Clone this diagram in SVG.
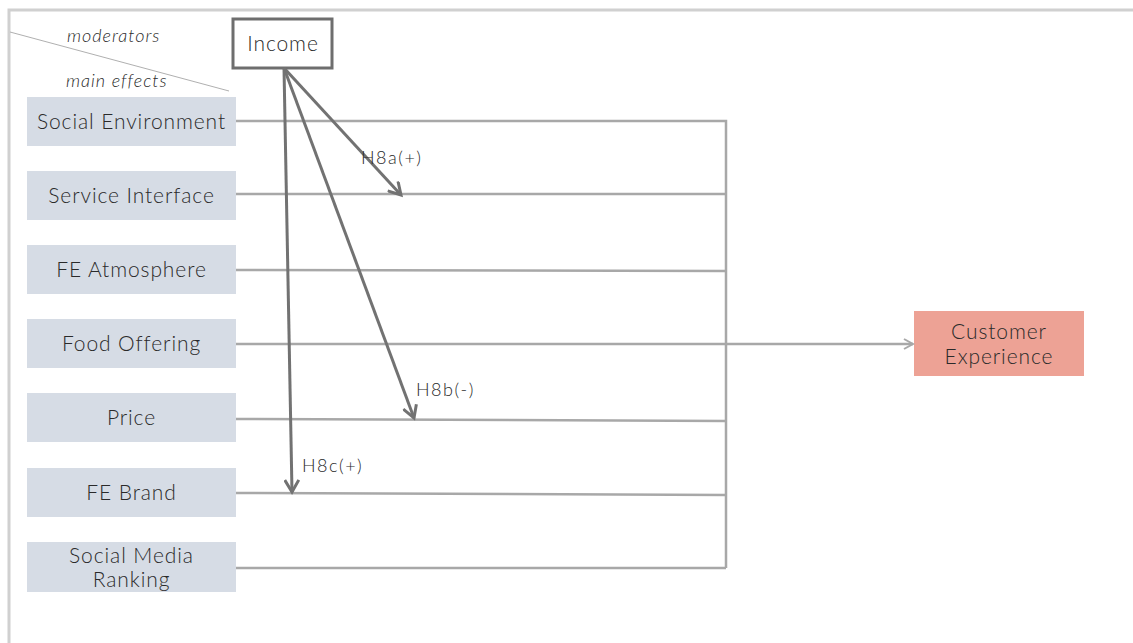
<svg xmlns="http://www.w3.org/2000/svg" width="1133" height="643" viewBox="0 0 1133 643">
<defs>
<style>
.frame{fill:none;stroke:#d0d0d0;stroke-width:3}
.box{fill:#d6dce5}
.lbl{font-family:Lato,"Liberation Sans",sans-serif;font-size:21px;letter-spacing:0.9px;fill:#2a2a2a;text-anchor:middle;font-weight:300}
.it{font-family:Lato,"Liberation Sans",sans-serif;font-size:18px;letter-spacing:1px;fill:#2a2a2a;font-style:italic;font-weight:300}
.h{font-family:Lato,"Liberation Sans",sans-serif;font-size:18px;letter-spacing:1.5px;fill:#2a2a2a;font-weight:300}
.conn{fill:none;stroke:#a8a8a8;stroke-width:2.5}
.mod{fill:none;stroke:#727272;stroke-width:3}
</style>
<marker id="open" markerWidth="12" markerHeight="12" refX="10" refY="6" orient="auto" markerUnits="userSpaceOnUse">
<path d="M1,1 L10,6 L1,11" fill="none" stroke="#a8a8a8" stroke-width="2"/>
</marker>
<marker id="mhead" markerWidth="16" markerHeight="16" refX="13" refY="8" orient="auto" markerUnits="userSpaceOnUse">
<path d="M1,1 L13,8 L1,15" fill="none" stroke="#727272" stroke-width="3"/>
</marker>
</defs>
<rect width="1133" height="643" fill="#fff"/>
<path class="frame" d="M9,643 L9,10 L1133,10"/>
<line x1="10" y1="32" x2="229" y2="91" stroke="#b0b0b0" stroke-width="1"/>
<text class="it" x="67" y="42">moderators</text>
<text class="it" x="66" y="87">main effects</text>

<g id="income">
<rect x="233" y="19" width="99" height="49" fill="#fff" stroke="#6e6e6e" stroke-width="3"/>
<text class="lbl" x="283" y="51">Income</text>
</g>
<g id="social-environment">
<rect class="box" x="27" y="97" width="209" height="49"/>
<text class="lbl" x="131.5" y="129">Social Environment</text>
</g>
<g id="service-interface">
<rect class="box" x="27" y="171" width="209" height="49"/>
<text class="lbl" x="131.5" y="203">Service Interface</text>
</g>
<g id="fe-atmosphere">
<rect class="box" x="27" y="245" width="209" height="49"/>
<text class="lbl" x="131.5" y="277">FE Atmosphere</text>
</g>
<g id="food-offering">
<rect class="box" x="27" y="319" width="209" height="49"/>
<text class="lbl" x="131.5" y="351">Food Offering</text>
</g>
<g id="price">
<rect class="box" x="27" y="393" width="209" height="49"/>
<text class="lbl" x="131.5" y="425">Price</text>
</g>
<g id="fe-brand">
<rect class="box" x="27" y="468" width="209" height="49"/>
<text class="lbl" x="131.5" y="500">FE Brand</text>
</g>
<g id="social-media-ranking">
<rect class="box" x="27" y="542" width="209" height="50"/>
<text class="lbl" x="131.5" y="563">Social Media</text>
<text class="lbl" x="131.5" y="587">Ranking</text>
</g>
<g id="customer-experience">
<rect x="914" y="311" width="170" height="65" fill="#eda295"/>
<text class="lbl" x="999" y="339">Customer</text>
<text class="lbl" x="999" y="364">Experience</text>
</g>

<g id="connectors">
<path class="conn" d="M236,121 L726,121 L726,568"/>
<line class="conn" x1="236" y1="194" x2="726" y2="194"/>
<line class="conn" x1="236" y1="270" x2="726" y2="271"/>
<line class="conn" x1="236" y1="344" x2="726" y2="344"/>
<line class="conn" x1="236" y1="419" x2="726" y2="421"/>
<line class="conn" x1="236" y1="493" x2="726" y2="495"/>
<line class="conn" x1="236" y1="568" x2="726" y2="568"/>
<line class="conn" x1="726" y1="344" x2="913" y2="344" marker-end="url(#open)"/>
<line class="mod" x1="284" y1="68" x2="401" y2="195" marker-end="url(#mhead)"/>
<line class="mod" x1="284" y1="68" x2="414" y2="418" marker-end="url(#mhead)"/>
<line class="mod" x1="284" y1="68" x2="292" y2="492" marker-end="url(#mhead)"/>
<text class="h" x="361" y="164">H8a(+)</text>
<text class="h" x="416" y="396">H8b(-)</text>
<text class="h" x="302" y="472">H8c(+)</text>
</g>
</svg>
